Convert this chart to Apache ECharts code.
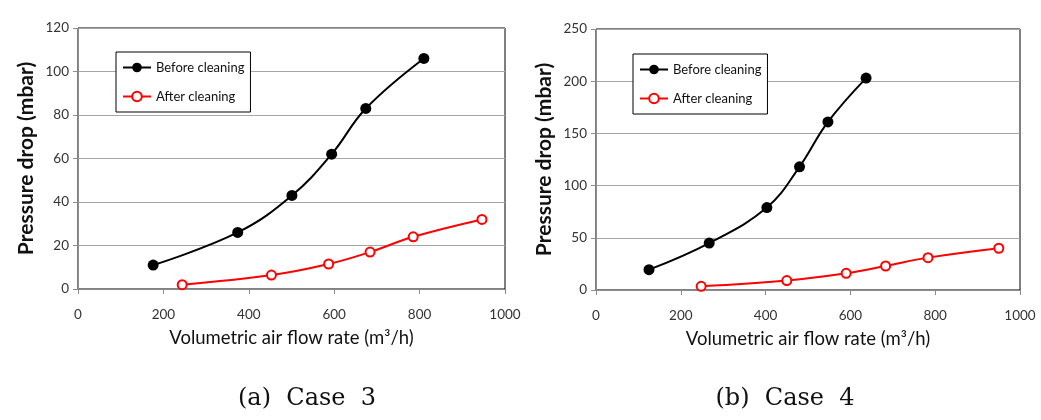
<!DOCTYPE html>
<html>
<head>
<meta charset="utf-8">
<script src="https://cdn.jsdelivr.net/npm/echarts@6/dist/echarts.min.js"></script>
<style>html,body{margin:0;padding:0;background:#fff;}#c{width:1041px;height:420px;}</style>
</head>
<body>
<div id="c"></div>
<script>
// Case 3 data
const case3Before = [[176, 11], [374, 26], [501, 43], [594, 62], [674, 83], [810, 106]];
const case3After = [[244, 2], [453, 6.4], [587, 11.5], [684, 17], [785, 24], [946, 32]];
// Case 4 data
const case4Before = [[125, 19.5], [267, 45], [403, 79], [480, 118], [547, 161], [637, 203]];
const case4After = [[248, 3.5], [450, 9], [590, 16], [683, 23], [783, 31], [950, 40]];
const seriesNames = ['Before cleaning', 'After cleaning'];
const captions = ['(a)  Case  3', '(b)  Case  4'];
const xTitle = 'Volumetric air flow rate (m³/h)';
const yTitle = 'Pressure drop (mbar)';

const FONT = 'Lato';
const chart = echarts.init(document.getElementById('c'), null, {renderer: 'canvas'});

function xAxis(gi) {
  return {
    type: 'value', gridIndex: gi, min: 0, max: 1000, interval: 200,
    name: xTitle, nameLocation: 'middle', nameGap: 40,
    nameTextStyle: {fontFamily: FONT, fontSize: 18.5, color: '#111'},
    axisLine: {show: true, lineStyle: {color: '#8c8c8c', width: 1}},
    axisTick: {show: true, length: 5, lineStyle: {color: '#8c8c8c'}},
    axisLabel: {margin: 19, fontFamily: FONT, fontSize: 13.5, color: '#333', formatter: v => String(v)},
    splitLine: {show: false}
  };
}
function yAxis(gi, max, interval) {
  return {
    type: 'value', gridIndex: gi, min: 0, max: max, interval: interval,
    name: yTitle, nameLocation: 'middle', nameGap: 41,
    nameTextStyle: {fontFamily: FONT, fontSize: 21, fontWeight: 'bold', color: '#111'},
    axisLine: {show: true, lineStyle: {color: '#8c8c8c', width: 1}},
    axisTick: {show: true, length: 5, lineStyle: {color: '#8c8c8c'}},
    axisLabel: {margin: 9, fontFamily: FONT, fontSize: 13.5, color: '#333', formatter: v => String(v)},
    splitLine: {show: true, lineStyle: {color: '#a6a6a6', width: 1}}
  };
}
function before(data, gi) {
  return {
    name: seriesNames[0], type: 'line', xAxisIndex: gi, yAxisIndex: gi, data: data,
    smooth: 0.4, symbol: 'circle', symbolSize: 11,
    lineStyle: {color: '#000', width: 2}, itemStyle: {color: '#000'}, z: 3
  };
}
function after(data, gi) {
  return {
    name: seriesNames[1], type: 'line', xAxisIndex: gi, yAxisIndex: gi, data: data,
    smooth: 0.4, symbol: 'emptyCircle', symbolSize: 9,
    lineStyle: {color: '#ff0000', width: 2}, itemStyle: {color: '#ff0000', borderWidth: 1.3}, z: 3
  };
}
function legend(left, top) {
  return {
    orient: 'vertical', left: left, top: top, data: seriesNames,
    backgroundColor: '#fff', borderColor: '#000', borderWidth: 1,
    padding: [9, 6, 9, 6], itemWidth: 28, itemHeight: 12, itemGap: 16,
    textStyle: {fontFamily: FONT, fontSize: 13, color: '#111'},
    selectedMode: false
  };
}

chart.setOption({
  animation: false,
  backgroundColor: '#fff',
  title: [
    {text: captions[0], left: 302, top: 382, textAlign: 'center',
     textStyle: {fontFamily: 'DejaVu Serif', fontSize: 24, fontWeight: 'normal', color: '#111'}},
    {text: captions[1], left: 780, top: 382, textAlign: 'center',
     textStyle: {fontFamily: 'DejaVu Serif', fontSize: 24, fontWeight: 'normal', color: '#111'}}
  ],
  grid: [
    {left: 78, right: 536, top: 28, bottom: 131, show: true, borderColor: '#000', borderWidth: 1, backgroundColor: 'transparent'},
    {left: 596, right: 21, top: 29, bottom: 130, show: true, borderColor: '#000', borderWidth: 1, backgroundColor: 'transparent'}
  ],
  legend: [legend(116, 52), legend(633, 54)],
  xAxis: [xAxis(0), xAxis(1)],
  yAxis: [yAxis(0, 120, 20), yAxis(1, 250, 50)],
  series: [before(case3Before, 0), after(case3After, 0), before(case4Before, 1), after(case4After, 1)]
});
</script>
</body>
</html>
